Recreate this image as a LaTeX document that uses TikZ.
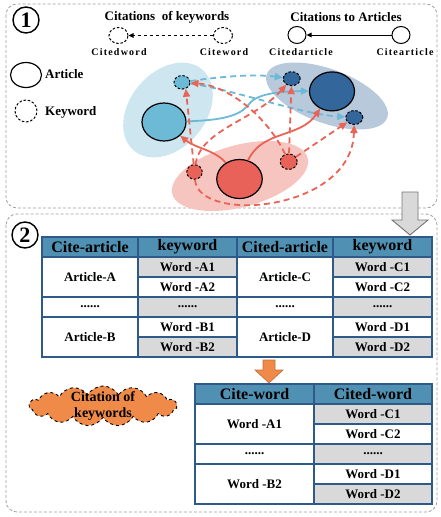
\documentclass[tikz,border=0pt]{standalone}
\usepackage{fontspec}
\setmainfont{Liberation Serif}
\newfontfamily\lblfont[LetterSpace=12]{Liberation Serif}
\usepackage{xcolor}
\usepackage{tikz}
\usetikzlibrary{arrows.meta,positioning,calc,shapes.geometric,shapes.symbols}

\definecolor{artblue}{HTML}{6CBAD5}
\definecolor{zoneblue}{HTML}{CDE6EF}
\definecolor{artdark}{HTML}{33669A}
\definecolor{zonedark}{HTML}{B8C9DC}
\definecolor{artred}{HTML}{E9625A}
\definecolor{zonered}{HTML}{F6C5BF}
\definecolor{lnred}{HTML}{EA6455}
\definecolor{lnblue}{HTML}{6DBAD6}
\definecolor{thead}{HTML}{5090B2}
\definecolor{tline}{HTML}{2D5A88}
\definecolor{tgray}{HTML}{D9D9D9}
\definecolor{orng}{HTML}{F08A48}

\begin{document}
\begin{tikzpicture}[x=1pt, y=-1pt,
  panel/.style={draw=gray!75, dash pattern=on 3pt off 2pt, line width=0.8pt, rounded corners=11pt},
  num/.style={circle, draw, line width=1.4pt, minimum size=26pt, inner sep=0pt, font=\fontsize{22}{22}\selectfont\bfseries},
  ttl/.style={font=\fontsize{13}{13}\selectfont\bfseries},
  lbl/.style={font=\lblfont\fontsize{10}{10}\selectfont\bfseries},
  leg/.style={font=\fontsize{13}{13}\selectfont\bfseries, anchor=west, inner sep=0pt},
  zone/.style={ellipse, inner sep=0pt},
  art/.style={ellipse, draw, line width=1.2pt, inner sep=0pt},
  kw/.style={ellipse, draw, line width=1pt, dash pattern=on 2.5pt off 1.8pt, inner sep=0pt},
  larr/.style={-{Triangle[length=5pt,width=4.5pt]}, line width=0.9pt},
  rarr/.style={-{Triangle[length=8pt,width=7pt]}, line width=1.8pt, draw=lnred},
  rdsh/.style={rarr, dash pattern=on 6pt off 4pt},
  barr/.style={rarr, draw=lnblue},
  bdsh/.style={barr, dash pattern=on 6pt off 4pt},
  hd/.style={draw=tline, fill=thead, line width=1.2pt, minimum height=20pt, inner sep=0pt, outer sep=0pt, font=\fontsize{16}{16}\selectfont\bfseries},
  wc/.style={hd, fill=white, font=\fontsize{13}{13}\selectfont\bfseries},
  gc/.style={wc, fill=tgray}
]
\useasboundingbox (0,0) rectangle (440,517);

% panels
\draw[panel] (6,4) rectangle (437,208);
\draw[panel] (6,214) rectangle (437,512);
\fill[tgray, draw=gray!90!black, line width=0.9pt] (402,192) -- (418,192) -- (418,220) -- (428,220) -- (410,235) -- (392,220) -- (402,220) -- cycle;

\node[num] (n1) at (26,20) {1};
\node[num] (n2) at (25,235) {2};

% legend
\node[ttl] (tkw) at (167,17) {Citations~ of keywords};
\node[kw, minimum width=19pt, minimum height=16pt] (lcdw) at (118.5,35.5) {};
\node[kw, minimum width=19pt, minimum height=16pt] (lcw) at (223,35.5) {};
\node[lbl] at (119,52) {Citedword};
\node[lbl] at (224,52) {Citeword};
\draw[larr, dashed] (lcw) -- (lcdw);

\node[ttl] (tart) at (346,17) {Citations to Articles};
\node[art, line width=1pt, minimum width=18pt, minimum height=17pt] (lcda) at (297,35) {};
\node[art, line width=1pt, minimum width=18pt, minimum height=17pt] (lca) at (401,35) {};
\node[lbl] at (301,52) {Citedarticle};
\node[lbl] at (405,52) {Citearticle};
\draw[larr] (lca) -- (lcda);

\node[art, minimum width=31pt, minimum height=25pt] (lart) at (26,75) {};
\node[leg] at (45,74) {Article};
\node[kw, minimum width=22pt, minimum height=22pt] (lkw) at (26,111) {};
\node[leg] at (45,112) {Keyword};

% groups
\node[zone, fill=zoneblue, minimum width=106pt, minimum height=76pt, rotate=50] (zb) at (168,110) {};
\node[zone, fill=zonedark, minimum width=128pt, minimum height=54pt, rotate=-20] (zd) at (327,96) {};
\node[zone, fill=zonered, minimum width=140pt, minimum height=62pt, rotate=15] (zr) at (240,176) {};

\node[art, fill=artblue, minimum width=44pt, minimum height=38pt] (ba) at (164,122) {};
\node[kw, fill=artblue, minimum width=16pt, minimum height=13.5pt] (bk) at (182,82.3) {};
\node[art, fill=artdark, minimum width=45pt, minimum height=39pt] (da) at (332,91.4) {};
\node[kw, fill=artdark, minimum width=17pt, minimum height=14pt] (dk1) at (291.7,78.7) {};
\node[kw, fill=artdark, minimum width=17pt, minimum height=14pt] (dk2) at (354.3,117.5) {};
\node[art, fill=artred, minimum width=45.5pt, minimum height=39pt] (ra) at (239.5,179) {};
\node[kw, fill=artred, minimum width=15.5pt, minimum height=14.5pt] (rk1) at (194.5,172) {};
\node[kw, fill=artred, minimum width=17pt, minimum height=15.5pt] (rk2) at (288.7,161.7) {};

% citations
\draw[bdsh] (bk) .. controls (225,76) and (255,74) .. (dk1);
\draw[bdsh] (bk) .. controls (235,90) and (300,114) .. (dk2);
\draw[barr] (ba) .. controls (232,120) and (242,113) .. (250,103) .. controls (258,93) and (285,91) .. (da);
\draw[rarr] (ra) .. controls (215,150) and (195,148) .. (ba);
\draw[rarr] (ra) .. controls (262,130) and (300,138) .. (da);
\draw[rdsh] (rk1) -- (bk.-60);
\draw[rdsh] (rk2) .. controls (268,118) and (230,86) .. (bk);
\draw[rdsh] (rk1) .. controls (200,130) and (255,120) .. (dk1);
\draw[rdsh] (rk2) -- (dk1);
\draw[rdsh] (rk2) -- (dk2);
\draw[rdsh] (rk1) .. controls (198,224) and (352,212) .. (dk2);

% table of articles
\node[hd, minimum width=96pt, anchor=north west] (ca) at (42,237) {Cite-article};
\node[hd, minimum width=99pt, right=0pt of ca] (kwa) {keyword};
\node[hd, minimum width=96pt, right=0pt of kwa] (cda) {Cited-article};
\node[hd, minimum width=99pt, right=0pt of cda] (kwb) {keyword};

\node[wc, minimum width=96pt, minimum height=40pt, below=0pt of ca] (arta) {Article-A};
\node[wc, minimum width=96pt, below=0pt of arta] (dota) {......};
\node[wc, minimum width=96pt, minimum height=40pt, below=0pt of dota] (artb) {Article-B};

\node[gc, minimum width=99pt, below=0pt of kwa] (wa1) {Word -A1};
\node[wc, minimum width=99pt, below=0pt of wa1] (wa2) {Word -A2};
\node[gc, minimum width=99pt, below=0pt of wa2] (dotb) {......};
\node[wc, minimum width=99pt, below=0pt of dotb] (wb1) {Word -B1};
\node[gc, minimum width=99pt, below=0pt of wb1] (wb2) {Word -B2};

\node[wc, minimum width=96pt, minimum height=40pt, below=0pt of cda] (artc) {Article-C};
\node[wc, minimum width=96pt, below=0pt of artc] (dotc) {......};
\node[wc, minimum width=96pt, minimum height=40pt, below=0pt of dotc] (artd) {Article-D};

\node[gc, minimum width=99pt, below=0pt of kwb] (wc1) {Word -C1};
\node[wc, minimum width=99pt, below=0pt of wc1] (wc2) {Word -C2};
\node[gc, minimum width=99pt, below=0pt of wc2] (dotd) {......};
\node[wc, minimum width=99pt, below=0pt of dotd] (wd1) {Word -D1};
\node[gc, minimum width=99pt, below=0pt of wd1] (wd2) {Word -D2};

% table of words
\fill[orng, draw=orng!80!black, line width=0.6pt] (263,360) -- (275,360) -- (275,370) -- (283,370) -- (269,383) -- (255,370) -- (263,370) -- cycle;

\node[cloud, cloud ignores aspect, cloud puffs=15, cloud puff arc=120, draw, dashed, line width=0.9pt, fill=orng, minimum width=148pt, minimum height=40pt, inner sep=0pt] (cl) at (103,406) {};
\node[align=center, font=\fontsize{14}{16}\selectfont\bfseries] (clt) at (cl) {Citation of\\keywords};

\node[hd, minimum width=119pt, anchor=north west] (cw) at (195,384) {Cite-word};
\node[hd, minimum width=118pt, right=0pt of cw] (cdw) {Cited-word};

\node[wc, minimum width=119pt, minimum height=40pt, below=0pt of cw] (xa1) {Word -A1};
\node[wc, minimum width=119pt, below=0pt of xa1] (xdot) {......};
\node[wc, minimum width=119pt, minimum height=40pt, below=0pt of xdot] (xb2) {Word -B2};

\node[gc, minimum width=118pt, below=0pt of cdw] (yc1) {Word -C1};
\node[wc, minimum width=118pt, below=0pt of yc1] (yc2) {Word -C2};
\node[gc, minimum width=118pt, below=0pt of yc2] (ydot) {......};
\node[wc, minimum width=118pt, below=0pt of ydot] (yd1) {Word -D1};
\node[gc, minimum width=118pt, below=0pt of yd1] (yd2) {Word -D2};
\end{tikzpicture}
\end{document}
